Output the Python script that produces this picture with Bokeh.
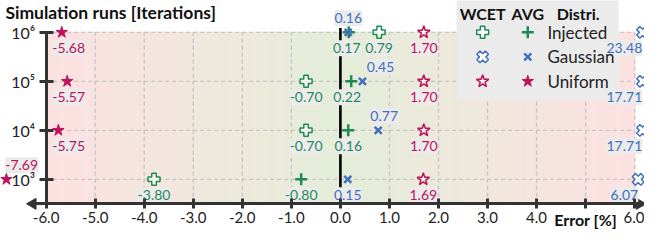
import numpy as np
from bokeh.plotting import figure
from bokeh.models import Range1d, FixedTicker, PrintfTickFormatter, ColumnDataSource, Label
from bokeh.core.properties import value
from bokeh.embed import file_html
from bokeh.resources import INLINE

# ---------------- data ----------------
iterations = [1e6, 1e5, 1e4, 1e3]
injected_wcet = [0.79, -0.70, -0.70, -3.80]
injected_avg = [0.17, 0.22, 0.16, -0.80]
gaussian_wcet = [23.48, 17.71, 17.71, 6.07]
gaussian_avg = [0.16, 0.45, 0.77, 0.15]
uniform_wcet = [1.70, 1.70, 1.70, 1.69]
uniform_avg = [-5.68, -5.57, -5.75, -7.69]

x_ticks = [-6, -5, -4, -3, -2, -1, 0, 1, 2, 3, 4, 5, 6]
y_ticks = [1e3, 1e4, 1e5, 1e6]
y_tick_labels = ["10\u00b3", "10\u2074", "10\u2075", "10\u2076"]
series_names = ["Injected", "Gaussian", "Uniform"]
x_title = "Error [%]"
y_title = "Simulation runs [Iterations]"

# ---------------- style / layout ----------------
FONT = "Lato"
GREEN = "#1f8a57"
BLUE = "#4270bd"
CRIMSON = "#be125a"
AXIS_C = "#333333"
AXIS_Y = 10 ** 2.5
X_VIEW = (-6.93, 6.2)
LOG_TOP = 6.65
PX_DEC = 49.0
Y_VIEW = (10 ** (LOG_TOP - 230 / PX_DEC), 10 ** LOG_TOP)
MARK_CLIP = (-6.81, 6.16)
LABEL_CLAMP = (-5.54, 5.79)

p = figure(width=644, height=230, x_range=Range1d(*X_VIEW), y_range=Range1d(*Y_VIEW),
           y_axis_type="log", output_backend="svg", toolbar_location=None,
           min_border=0, outline_line_color=None)
p.xgrid.visible = False
p.ygrid.visible = False
p.background_fill_color = "white"

# background gradient (red at the edges, green at 0)
edge = np.array([253, 225, 225])
center = np.array([228, 237, 217])
n = 96
lefts = np.linspace(-6, 6, n + 1)[:-1]
rights = np.linspace(-6, 6, n + 1)[1:]
mids = (lefts + rights) / 2
cols = []
for m in mids:
    t = abs(m) / 6
    c = center + (edge - center) * t
    cols.append("#%02x%02x%02x" % tuple(int(round(v)) for v in c))
p.quad(left=lefts, right=rights, bottom=AXIS_Y, top=1e6, fill_color=cols,
       line_color=cols, line_width=1.2)

# dashed grid
p.segment(x0=x_ticks, y0=AXIS_Y, x1=x_ticks, y1=1e6, line_color="#c6c6c6",
          line_width=1.4, line_dash="4 3")
p.segment(x0=-6, y0=y_ticks, x1=6, y1=y_ticks, line_color="#c6c6c6",
          line_width=1.4, line_dash="4 3")

# zero line
p.segment(x0=[0], y0=[AXIS_Y], x1=[0], y1=[10 ** 6.09], line_color="black", line_width=2.6)

# legend box
p.quad(left=[2.37], right=[5.67], bottom=[10 ** 4.63], top=[10 ** 6.8],
       fill_color="#ebebeb", line_color=None)

# axes
xa = p.xaxis[0]
xa.fixed_location = AXIS_Y
xa.bounds = (-6.3, 6.1)
xa.ticker = FixedTicker(ticks=x_ticks)
xa.formatter = PrintfTickFormatter(format="%.1f")
xa.major_label_overrides = {5: ""}
xa.axis_line_width = 3
xa.axis_line_color = AXIS_C
xa.major_tick_line_width = 3
xa.major_tick_line_color = AXIS_C
xa.major_tick_in = 5
xa.major_tick_out = 5
xa.minor_tick_line_color = None
xa.major_label_text_font = FONT
xa.major_label_text_font_size = "15px"
xa.major_label_text_color = "#222222"
xa.major_label_standoff = 3

ya = p.yaxis[0]
ya.fixed_location = -6
ya.bounds = (AXIS_Y, 1e6)
ya.ticker = FixedTicker(ticks=y_ticks)
ya.major_label_overrides = {t: l for t, l in zip(y_ticks, y_tick_labels)}
ya.axis_line_width = 3
ya.axis_line_color = AXIS_C
ya.major_tick_line_width = 3
ya.major_tick_line_color = AXIS_C
ya.major_tick_in = 7
ya.major_tick_out = 7
ya.minor_tick_line_color = None
ya.major_label_text_font = FONT
ya.major_label_text_font_size = "16px"
ya.major_label_text_color = "#222222"
ya.major_label_standoff = 4

# axis arrows
p.scatter(x=[-6.27, 6.1], y=[AXIS_Y, AXIS_Y], marker="triangle", angle=[np.pi / 2, -np.pi / 2],
          size=11, fill_color=AXIS_C, line_color=AXIS_C)

# axis titles
p.add_layout(Label(x=5, y=AXIS_Y, text=x_title, text_font=FONT, text_font_style="bold",
                   text_font_size="16px", text_color="#111111", text_align="center",
                   text_baseline="middle", y_offset=-16))
p.text(x=[-6.83], y=[10 ** 6.41], text=[y_title], text_font=value(FONT), text_font_style="bold",
       text_font_size="17.5px", text_color="#111111", text_align="left", text_baseline="middle")

# ---------------- data markers ----------------
def cx(vals):
    return np.clip(np.array(vals, dtype=float), *MARK_CLIP)

light = "#ffffff"
p.scatter(cx(injected_wcet), iterations, marker="plus", size=12, fill_color=light,
          fill_alpha=0.6, line_color=GREEN, line_width=1.5)
p.scatter(cx(injected_avg), iterations, marker="cross", size=12, line_color=GREEN, line_width=2.5)
p.scatter(cx(gaussian_wcet), iterations, marker="plus", angle=np.pi / 4, size=12, fill_color=light,
          fill_alpha=0.6, line_color=BLUE, line_width=1.5)
p.scatter(cx(gaussian_avg), iterations, marker="x", size=10, line_color=BLUE, line_width=2.5)
p.scatter(cx(uniform_wcet), iterations, marker="star", size=13, fill_color=light,
          fill_alpha=0.6, line_color=CRIMSON, line_width=1.5)
p.scatter(cx(uniform_avg), iterations, marker="star", size=12, fill_color=CRIMSON,
          line_color=CRIMSON, line_width=1)

# ---------------- value labels ----------------
BELOW, ABOVE = 16, -14
label_specs = [
    (injected_wcet, GREEN, [BELOW] * 4, [0, 0, 0, 0]),
    (injected_avg, GREEN, [BELOW] * 4, [-2, -4, 0, 0]),
    (gaussian_wcet, BLUE, [BELOW] * 4, [0, 0, 0, 0]),
    (gaussian_avg, BLUE, [ABOVE, ABOVE, ABOVE, BELOW], [0, 18, 6, 0]),
    (uniform_wcet, CRIMSON, [BELOW] * 4, [0, 0, 0, 0]),
    (uniform_avg, CRIMSON, [BELOW, BELOW, BELOW, ABOVE], [0, 0, 0, -47]),
]
lx, ly, lt, lc, lxo, lyo = [], [], [], [], [], []
for vals, col, yos, xos in label_specs:
    for v, it, yo, xo in zip(vals, iterations, yos, xos):
        lx.append(float(np.clip(v, *LABEL_CLAMP)))
        ly.append(it)
        lt.append("%.2f" % v)
        lc.append(col)
        lxo.append(xo)
        lyo.append(yo)
src = ColumnDataSource(dict(x=lx, y=ly, text=lt, color=lc, xo=lxo, yo=lyo))
p.text(x="x", y="y", text="text", source=src, x_offset="xo", y_offset="yo",
       text_color="color", text_font=value(FONT), text_font_size="14px",
       text_align="center", text_baseline="middle",
       background_fill_color="#ebebeb", background_fill_alpha=1.0, padding=(0, 3), border_radius=2)

# ---------------- legend (manual, two marker columns) ----------------
LEG_X_WCET, LEG_X_AVG, LEG_X_TXT = 2.90, 3.82, 4.22
leg_rows = [1e6, 10 ** 5.5, 1e5]
p.text(x=[LEG_X_WCET, LEG_X_AVG, 4.41], y=[10 ** 6.39] * 3, text=["WCET", "AVG", "Distri."],
       text_font=value(FONT), text_font_style="bold", text_font_size="16px",
       text_color="#111111", text_align=["center", "center", "left"], text_baseline="middle")
p.scatter([LEG_X_WCET], [leg_rows[0]], marker="plus", size=12, fill_color=light, line_color=GREEN, line_width=1.5)
p.scatter([LEG_X_AVG], [leg_rows[0]], marker="cross", size=12, line_color=GREEN, line_width=2.5)
p.scatter([LEG_X_WCET], [leg_rows[1]], marker="plus", angle=np.pi / 4, size=12, fill_color=light, line_color=BLUE, line_width=1.5)
p.scatter([LEG_X_AVG], [leg_rows[1]], marker="x", size=10, line_color=BLUE, line_width=2.5)
p.scatter([LEG_X_WCET], [leg_rows[2]], marker="star", size=13, fill_color=light, line_color=CRIMSON, line_width=1.5)
p.scatter([LEG_X_AVG], [leg_rows[2]], marker="star", size=12, fill_color=CRIMSON, line_color=CRIMSON)
p.text(x=[LEG_X_TXT] * 3, y=leg_rows, text=series_names, text_font=value(FONT),
       text_font_size="17px", text_color="#222222", text_align="left", text_baseline="middle")

open("out.html", "w").write(file_html(p, INLINE))
